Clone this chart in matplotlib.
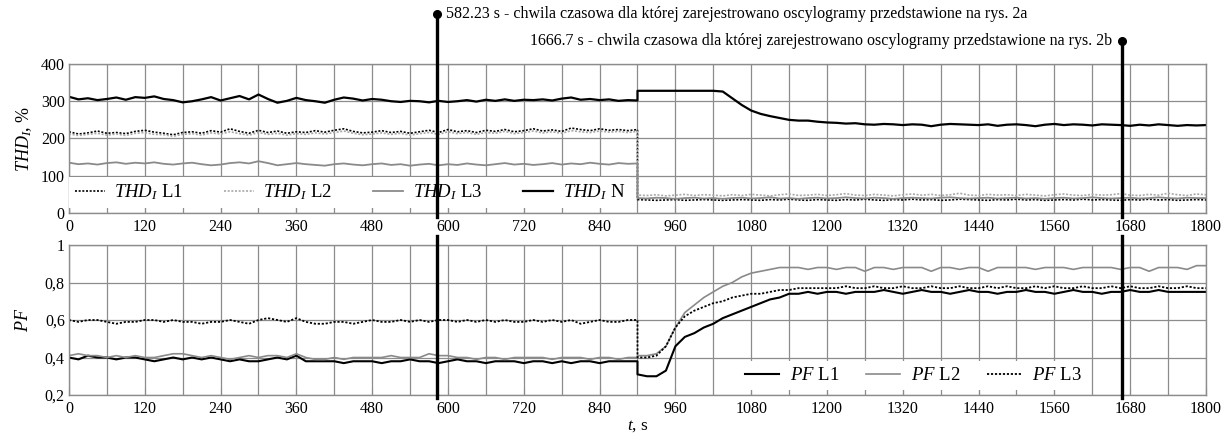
import numpy as np
import matplotlib
matplotlib.use('Agg')
import matplotlib.pyplot as plt
from matplotlib.ticker import MultipleLocator

plt.rcParams['font.family'] = ['Liberation Serif', 'DejaVu Serif']
plt.rcParams['mathtext.fontset'] = 'custom'
plt.rcParams['mathtext.rm'] = 'Liberation Serif'
plt.rcParams['mathtext.it'] = 'Liberation Serif:italic'

GRID = '#8c8c8c'
GRAY = '#8a8a8a'
LIGHT = '#a8a8a8'
INK = '#000000'

# sampling instants (s): before and after the switch at 900 s
T_PRE = list(range(0, 901, 15))
T_POST = list(range(900, 1801, 15))

# ---- THD_I, % ----
THD_N_PRE = [312, 305, 308, 303, 306, 310, 304, 311, 309, 313,
             306, 303, 297, 300, 305, 311, 302, 308, 314, 305,
             318, 306, 296, 301, 309, 303, 300, 296, 304, 310,
             307, 302, 306, 304, 300, 298, 301, 300, 297, 301,
             298, 300, 303, 299, 304, 301, 305, 301, 304, 303,
             305, 302, 307, 310, 304, 306, 303, 305, 301, 303, 302]
THD_N_POST = [328, 328, 328, 328, 328, 328, 328, 328, 328, 326,
              308, 290, 275, 266, 260, 255, 250, 248, 248, 245,
              243, 242, 240, 241, 238, 237, 239, 238, 236, 238,
              237, 233, 237, 239, 238, 237, 236, 238, 234, 237,
              238, 236, 233, 237, 239, 236, 238, 237, 235, 238,
              237, 236, 234, 237, 235, 238, 236, 234, 236, 235, 236]
THD_L1_PRE = [218, 212, 215, 220, 214, 216, 213, 219, 222, 217,
              214, 210, 216, 218, 214, 221, 217, 226, 219, 214,
              222, 216, 220, 214, 218, 216, 221, 217, 222, 226,
              219, 215, 217, 221, 216, 219, 214, 218, 222, 216,
              224, 218, 221, 216, 222, 219, 224, 218, 221, 226,
              220, 223, 219, 228, 224, 221, 226, 222, 224, 221, 224]
THD_L1_POST = [36, 35, 34, 35, 36, 34, 35, 36, 35, 34,
               35, 36, 35, 34, 36, 35, 37, 35, 34, 36,
               35, 34, 36, 35, 37, 35, 34, 36, 35, 37,
               35, 36, 34, 35, 37, 36, 35, 34, 36, 35,
               37, 35, 36, 34, 35, 36, 35, 37, 35, 36,
               35, 34, 36, 35, 37, 35, 36, 34, 35, 36, 35]
THD_L2_PRE = [212, 208, 211, 214, 209, 212, 208, 214, 216, 211,
              210, 206, 211, 213, 209, 215, 212, 218, 213, 209,
              216, 211, 214, 209, 213, 211, 215, 212, 216, 220,
              214, 210, 212, 215, 211, 214, 209, 213, 216, 211,
              218, 213, 216, 211, 216, 214, 219, 213, 216, 220,
              215, 218, 214, 221, 218, 216, 220, 217, 219, 216, 219]
THD_L2_POST = [48, 47, 49, 46, 48, 50, 47, 49, 48, 46,
               49, 47, 50, 48, 46, 49, 51, 47, 48, 50,
               47, 49, 52, 48, 47, 50, 48, 46, 49, 51,
               48, 50, 47, 49, 53, 48, 47, 50, 48, 49,
               47, 50, 48, 46, 49, 51, 48, 47, 50, 48,
               49, 52, 48, 47, 50, 48, 53, 49, 47, 51, 49]
THD_L3_PRE = [135, 131, 133, 130, 134, 136, 132, 135, 133, 136,
              132, 130, 133, 135, 131, 128, 130, 134, 136, 133,
              139, 134, 128, 131, 134, 131, 129, 127, 131, 133,
              130, 128, 131, 133, 129, 131, 127, 130, 132, 128,
              131, 129, 133, 130, 128, 131, 134, 130, 132, 129,
              131, 134, 130, 133, 131, 135, 132, 130, 134, 132, 133]
THD_L3_POST = [40, 39, 41, 40, 38, 40, 41, 39, 40, 38,
               40, 41, 39, 40, 42, 39, 40, 38, 40, 41,
               39, 40, 42, 40, 39, 41, 40, 38, 40, 41,
               40, 39, 41, 42, 40, 39, 40, 41, 39, 40,
               41, 39, 40, 38, 40, 41, 39, 40, 42, 40,
               39, 40, 41, 39, 40, 42, 40, 39, 41, 40, 40]

# ---- PF ----
PF_L1_PRE = [0.40, 0.39, 0.41, 0.40, 0.40, 0.39, 0.40, 0.40, 0.39, 0.38,
             0.39, 0.40, 0.39, 0.40, 0.39, 0.40, 0.39, 0.38, 0.39, 0.38,
             0.38, 0.39, 0.40, 0.39, 0.41, 0.38, 0.38, 0.38, 0.38, 0.37,
             0.38, 0.38, 0.38, 0.37, 0.38, 0.38, 0.39, 0.38, 0.38, 0.37,
             0.38, 0.39, 0.38, 0.38, 0.37, 0.38, 0.38, 0.38, 0.37, 0.38,
             0.38, 0.37, 0.38, 0.37, 0.38, 0.38, 0.37, 0.38, 0.38, 0.38, 0.38]
PF_L1_POST = [0.31, 0.30, 0.30, 0.33, 0.46, 0.51, 0.53, 0.56, 0.58, 0.61,
              0.63, 0.65, 0.67, 0.69, 0.71, 0.72, 0.74, 0.74, 0.75, 0.74,
              0.75, 0.75, 0.74, 0.75, 0.75, 0.75, 0.76, 0.75, 0.74, 0.75,
              0.76, 0.75, 0.75, 0.74, 0.75, 0.76, 0.75, 0.75, 0.74, 0.75,
              0.75, 0.76, 0.75, 0.75, 0.74, 0.75, 0.76, 0.75, 0.75, 0.74,
              0.75, 0.75, 0.76, 0.75, 0.75, 0.76, 0.75, 0.75, 0.75, 0.75, 0.75]
PF_L2_PRE = [0.41, 0.42, 0.41, 0.41, 0.40, 0.41, 0.40, 0.41, 0.40, 0.40,
             0.41, 0.42, 0.42, 0.41, 0.40, 0.41, 0.40, 0.39, 0.40, 0.41,
             0.40, 0.41, 0.41, 0.40, 0.42, 0.40, 0.39, 0.39, 0.40, 0.39,
             0.40, 0.40, 0.40, 0.40, 0.41, 0.40, 0.40, 0.40, 0.42, 0.41,
             0.41, 0.40, 0.40, 0.39, 0.40, 0.40, 0.39, 0.40, 0.40, 0.40,
             0.40, 0.39, 0.40, 0.40, 0.40, 0.39, 0.40, 0.40, 0.39, 0.40, 0.40]
PF_L2_POST = [0.41, 0.41, 0.42, 0.46, 0.56, 0.64, 0.68, 0.72, 0.75, 0.78,
              0.80, 0.83, 0.85, 0.86, 0.87, 0.88, 0.88, 0.88, 0.87, 0.88,
              0.88, 0.87, 0.88, 0.88, 0.86, 0.88, 0.88, 0.87, 0.88, 0.88,
              0.88, 0.86, 0.88, 0.88, 0.87, 0.88, 0.88, 0.86, 0.88, 0.88,
              0.88, 0.88, 0.87, 0.88, 0.88, 0.88, 0.87, 0.88, 0.88, 0.88,
              0.88, 0.87, 0.88, 0.88, 0.86, 0.88, 0.88, 0.88, 0.87, 0.89, 0.89]
PF_L3_PRE = [0.60, 0.59, 0.60, 0.60, 0.59, 0.58, 0.59, 0.59, 0.60, 0.60,
             0.59, 0.60, 0.59, 0.59, 0.58, 0.59, 0.59, 0.60, 0.59, 0.58,
             0.60, 0.61, 0.60, 0.59, 0.61, 0.59, 0.58, 0.58, 0.59, 0.59,
             0.58, 0.59, 0.60, 0.59, 0.59, 0.60, 0.59, 0.60, 0.59, 0.60,
             0.60, 0.59, 0.60, 0.59, 0.60, 0.59, 0.60, 0.59, 0.59, 0.60,
             0.59, 0.60, 0.59, 0.60, 0.58, 0.59, 0.60, 0.59, 0.59, 0.60, 0.60]
PF_L3_POST = [0.40, 0.40, 0.41, 0.46, 0.56, 0.62, 0.65, 0.67, 0.69, 0.70,
              0.72, 0.73, 0.74, 0.74, 0.75, 0.76, 0.76, 0.77, 0.77, 0.77,
              0.77, 0.77, 0.78, 0.77, 0.77, 0.78, 0.77, 0.77, 0.78, 0.77,
              0.77, 0.78, 0.77, 0.77, 0.78, 0.77, 0.77, 0.78, 0.77, 0.78,
              0.77, 0.77, 0.78, 0.77, 0.78, 0.77, 0.77, 0.78, 0.77, 0.77,
              0.78, 0.77, 0.78, 0.77, 0.77, 0.78, 0.77, 0.77, 0.78, 0.77, 0.77]

# time instants marked with oscillograms
MARK_T = [582.23, 1666.7]
MARK_TXT = ['582.23 s - chwila czasowa dla której zarejestrowano oscylogramy przedstawione na rys. 2a',
            '1666.7 s - chwila czasowa dla której zarejestrowano oscylogramy przedstawione na rys. 2b']


def series(pre, post):
    return np.array(T_PRE + T_POST), np.array(pre + post)


def style_axes(ax):
    ax.set_xlim(0, 1800)
    ax.xaxis.set_major_locator(MultipleLocator(120))
    ax.xaxis.set_minor_locator(MultipleLocator(60))
    ax.grid(True, which='both', axis='x', color=GRID, linewidth=0.9, zorder=0)
    ax.grid(True, which='major', axis='y', color=GRID, linewidth=0.9, zorder=0)
    ax.tick_params(axis='x', which='both', direction='in', length=5,
                   color=GRID, labelsize=11.5, pad=4)
    ax.tick_params(axis='y', length=0, labelsize=11.5, pad=3)
    for s in ax.spines.values():
        s.set_color(GRID)
        s.set_linewidth(1.0)
    ax.set_axisbelow(True)


def white_legend(ax, **kw):
    leg = ax.legend(frameon=True, fancybox=False, fontsize=13.5,
                    borderpad=0.3, borderaxespad=0.0, **kw)
    leg.get_frame().set_facecolor('white')
    leg.get_frame().set_edgecolor('none')
    leg.get_frame().set_alpha(1.0)
    return leg


def draw_thd(ax):
    style_axes(ax)
    t, y = series(THD_L1_PRE, THD_L1_POST)
    ax.plot(t, y, color=INK, lw=1.2, ls=(0, (1.2, 1.0)), label=r'$\mathit{THD}_I$ L1')
    t, y = series(THD_L2_PRE, THD_L2_POST)
    ax.plot(t, y, color=LIGHT, lw=1.2, ls=(0, (1.2, 1.0)), label=r'$\mathit{THD}_I$ L2')
    t, y = series(THD_L3_PRE, THD_L3_POST)
    ax.plot(t, y, color=GRAY, lw=1.3, label=r'$\mathit{THD}_I$ L3')
    t, y = series(THD_N_PRE, THD_N_POST)
    ax.plot(t, y, color=INK, lw=1.6, label=r'$\mathit{THD}_I$ N')
    ax.set_ylim(0, 400)
    ax.set_yticks([0, 100, 200, 300, 400])
    ax.set_ylabel(r'$\mathit{THD}_I$, %', fontsize=13, labelpad=5)
    white_legend(ax, loc='lower left', bbox_to_anchor=(0.0, 0.035), ncol=4,
                 handlelength=1.6, handletextpad=0.5, columnspacing=2.2)


def draw_pf(ax):
    style_axes(ax)
    t, y = series(PF_L1_PRE, PF_L1_POST)
    ax.plot(t, y, color=INK, lw=1.5, label=r'$\mathit{PF}$ L1')
    t, y = series(PF_L2_PRE, PF_L2_POST)
    ax.plot(t, y, color=GRAY, lw=1.2, label=r'$\mathit{PF}$ L2')
    t, y = series(PF_L3_PRE, PF_L3_POST)
    ax.plot(t, y, color=INK, lw=1.3, ls=(0, (1.2, 1.0)), label=r'$\mathit{PF}$ L3')
    ax.set_ylim(0.2, 1.0)
    ax.set_yticks([0.2, 0.4, 0.6, 0.8, 1.0])
    ax.set_yticklabels(['0,2', '0,4', '0,6', '0,8', '1'])
    ax.set_ylabel(r'$\mathit{PF}$', fontsize=13, labelpad=9)
    ax.set_xlabel(r'$t$, s', fontsize=12.5, labelpad=1)
    white_legend(ax, loc='lower left', bbox_to_anchor=(0.59, 0.035), ncol=3,
                 handlelength=1.8, handletextpad=0.6, columnspacing=1.4)


def draw_markers(ax_top, ax_bot):
    tops = [1.338, 1.155]
    for t, top, txt in zip(MARK_T, tops, MARK_TXT):
        tr = ax_top.get_xaxis_transform()
        ax_top.plot([t, t], [-0.03, top], color=INK, lw=2.4, transform=tr,
                    clip_on=False, zorder=6)
        ax_top.plot([t], [top], 'o', color=INK, ms=5.5, transform=tr,
                    clip_on=False, zorder=6)
        side = 1 if t < 900 else -1
        ax_top.annotate(txt, xy=(t, top), xycoords=tr, xytext=(7 * side, 0),
                        textcoords='offset points',
                        ha='left' if side > 0 else 'right', va='center',
                        fontsize=11.5)
        trb = ax_bot.get_xaxis_transform()
        ax_bot.plot([t, t], [-0.02, 1.06], color=INK, lw=2.4, transform=trb,
                    clip_on=False, zorder=6)


def main():
    fig = plt.figure(figsize=(12.23, 4.37), dpi=100, facecolor='white')
    ax_top = fig.add_axes([0.0564, 0.5126, 0.9297, 0.3410])
    ax_bot = fig.add_axes([0.0564, 0.0961, 0.9297, 0.3432])
    draw_thd(ax_top)
    draw_pf(ax_bot)
    draw_markers(ax_top, ax_bot)
    fig.savefig('out.png', dpi=100, facecolor='white')


if __name__ == '__main__':
    main()
